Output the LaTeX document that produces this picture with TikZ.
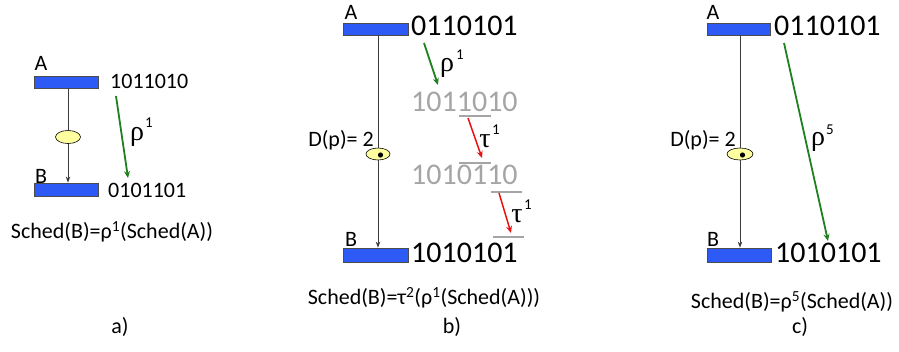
\documentclass[tikz,border=0pt]{standalone}
\usepackage{fontspec}
\setmainfont{Carlito}
\newfontfamily\grk{Liberation Serif}
\usetikzlibrary{arrows.meta,shapes.geometric}
\definecolor{barblue}{RGB}{45,90,245}
\definecolor{arrgreen}{RGB}{30,128,30}
\definecolor{arrred}{RGB}{232,20,20}
\definecolor{ltgray}{RGB}{165,165,165}
\definecolor{elly}{RGB}{255,255,160}
\definecolor{linegray}{RGB}{60,60,60}
\begin{document}
\begin{tikzpicture}[x=1pt,y=-1pt,
  bar/.style={draw=black!70, fill=barblue, line width=0.8pt, inner sep=0pt},
  ell/.style={ellipse, draw=black, fill=elly, line width=0.6pt, inner sep=0pt, minimum width=25pt, minimum height=13pt},
  lab/.style={inner sep=0pt, font=\fontsize{22}{26}\selectfont},
  bits/.style={anchor=west, inner sep=0pt, font=\fontsize{22}{26}\selectfont},
  bigbits/.style={anchor=west, inner sep=0pt, font=\fontsize{30}{35}\selectfont},
  sched/.style={inner sep=0pt, font=\fontsize{22}{26}\selectfont},
  grklab/.style={inner sep=0pt, font=\fontsize{28}{32}\selectfont\grk},
  supl/.style={inner sep=0pt, font=\fontsize{15}{17}\selectfont},
  vline/.style={draw=linegray, line width=0.8pt},
  varrow/.style={vline, -{Stealth[length=6pt,width=4.5pt]}},
  garrow/.style={draw=arrgreen, line width=1.8pt, -{Stealth[length=7pt,width=6pt]}},
  rarrow/.style={draw=arrred, line width=1.5pt, -{Stealth[length=7pt,width=6pt]}},
  gmark/.style={draw=ltgray, line width=1.6pt},
]
\useasboundingbox (0,0) rectangle (899,351);

%%% panel a
\node[bar, minimum width=64pt, minimum height=12pt] (aA) at (66,82) {};
\node[bar, minimum width=64pt, minimum height=13pt] (aB) at (66,189.5) {};
\node[lab] (aAl) at (41,63) {A};
\node[lab] (aBl) at (41,176) {B};
\node[ell] (ae) at (68,137) {};
\draw[vline] (ae |- aA.south) -- (ae.north);
\draw[varrow] (ae.south) -- (ae |- aB.north);
\node[bits] (at1) at (110,81) {1011010};
\node[bits] (at2) at (108,190) {0101101};
\coordinate (ag1) at (116,96);
\coordinate (ag2) at (128,178);
\draw[garrow] (ag1) -- (ag2);
\node[grklab] (arho) at (137,137) {ρ};
\node[supl] (arhos) at (149,123) {1};
\node[sched] (asched) at (112,232) {Sched(B)=ρ\textsuperscript{1}(Sched(A))};
\node[sched] (acap) at (120,327) {a)};

%%% panel b
\node[bar, minimum width=65pt, minimum height=12pt] (bA) at (375.5,29) {};
\node[bar, minimum width=65pt, minimum height=14pt] (bB) at (375.5,255) {};
\node[lab] (bAl) at (351,12) {A};
\node[lab] (bBl) at (351,239) {B};
\node[ell, minimum width=24pt, minimum height=12pt] (be) at (378,154) {};
\fill (380.5,155) circle (2.6pt);
\draw[vline] (be |- bA.south) -- (be.north);
\draw[varrow] (be.south) -- (be |- bB.north);
\node[lab, anchor=east] (bd) at (374,140) {D(p)= 2};
\node[bigbits] (bt1) at (411,26) {0110101};
\node[bigbits, text=ltgray] (bt2) at (411,102) {1011010};
\node[bigbits, text=ltgray] (bt3) at (411,175) {1010110};
\node[bigbits] (bt4) at (411,253) {1010101};
\draw[gmark] (459,116) -- (491,116);
\draw[gmark] (459,163) -- (491,163);
\draw[gmark] (491,192) -- (522,192);
\draw[gmark] (493,237) -- (524,237);
\coordinate (bg1) at (424,43);
\coordinate (bg2) at (438,85);
\draw[garrow] (bg1) -- (bg2);
\node[grklab] (brho) at (447,68) {ρ};
\node[supl] (brhos) at (460,55) {1};
\coordinate (br1) at (468,118);
\coordinate (br2) at (482,158);
\draw[rarrow] (br1) -- (br2);
\node[grklab] (btau1) at (485,141) {τ};
\node[supl] (btau1s) at (496,130) {1};
\coordinate (br3) at (499,193);
\coordinate (br4) at (511,233);
\draw[rarrow] (br3) -- (br4);
\node[grklab] (btau2) at (517,216) {τ};
\node[supl] (btau2s) at (528,205) {1};
\node[sched] (bsched) at (424,298) {Sched(B)=τ\textsuperscript{2}(ρ\textsuperscript{1}(Sched(A)))};
\node[sched] (bcap) at (452,327) {b)};

%%% panel c
\node[bar, minimum width=63pt, minimum height=12pt] (cA) at (738.5,29) {};
\node[bar, minimum width=64pt, minimum height=14pt] (cB) at (739,255) {};
\node[lab] (cAl) at (713,12) {A};
\node[lab] (cBl) at (713,239) {B};
\node[ell, minimum width=26pt, minimum height=12pt] (ce) at (740,154) {};
\fill (742.5,155) circle (2.6pt);
\draw[vline] (ce |- cA.south) -- (ce.north);
\draw[varrow] (ce.south) -- (ce |- cB.north);
\node[lab, anchor=east] (cd) at (736,140) {D(p)= 2};
\node[bigbits] (ct1) at (774,26) {0110101};
\node[bigbits] (ct2) at (775,253) {1010101};
\coordinate (cg1) at (784,43);
\coordinate (cg2) at (828,241);
\draw[garrow] (cg1) -- (cg2);
\node[grklab] (crho) at (818,142) {ρ};
\node[supl] (crhos) at (830,130) {5};
\node[sched] (csched) at (792,302) {Sched(B)=ρ\textsuperscript{5}(Sched(A))};
\node[sched] (ccap) at (800,327) {c)};
\end{tikzpicture}
\end{document}
